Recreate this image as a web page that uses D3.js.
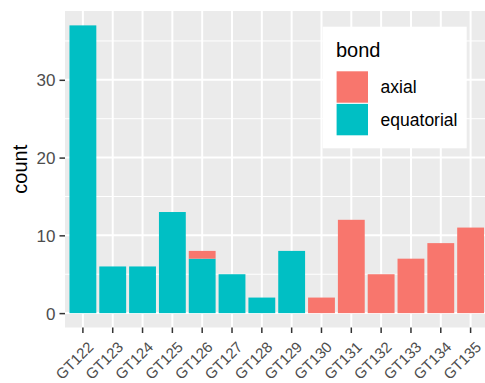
<!DOCTYPE html>
<html>
<head>
<meta charset="utf-8">
<script src="https://cdn.jsdelivr.net/npm/d3@7"></script>
<style>
  body { margin: 0; background: #fff; }
  svg { display: block; font-family: "Liberation Sans", Arial, sans-serif; }
</style>
</head>
<body>
<div id="chart"></div>
<script>
// data
const categories = ["GT122", "GT123", "GT124", "GT125", "GT126", "GT127", "GT128",
  "GT129", "GT130", "GT131", "GT132", "GT133", "GT134", "GT135"];
const equatorial = [37, 6, 6, 13, 7, 5, 2, 8, 0, 0, 0, 0, 0, 0];
const axial = [0, 0, 0, 0, 1, 0, 0, 0, 2, 12, 5, 7, 9, 11];
const yTicks = [0, 10, 20, 30];
const yMinor = [5, 15, 25, 35];
const bonds = ["axial", "equatorial"];
const bondColors = { axial: "#F8766D", equatorial: "#00BFC4" };

const width = 485, height = 383;
const panel = { left: 65, right: 488.5, top: 11, bottom: 327.5 };

const svg = d3.select("#chart").append("svg")
  .attr("width", width)
  .attr("height", height);

// stacked: equatorial at bottom, axial on top
const rows = categories.map((c, i) => ({ cat: c, equatorial: equatorial[i], axial: axial[i] }));
const stack = d3.stack().keys(["equatorial", "axial"])(rows);

const ymax = d3.max(rows, (d) => d.equatorial + d.axial);
const pad = ymax * 0.05;

const x = d3.scaleBand()
  .domain(categories)
  .range([panel.left, panel.right])
  .paddingInner(0.1)
  .paddingOuter(0.15);

const y = d3.scaleLinear()
  .domain([-pad, ymax + pad])
  .range([panel.bottom, panel.top]);

// panel background
svg.append("rect")
  .attr("x", panel.left)
  .attr("y", panel.top)
  .attr("width", panel.right - panel.left)
  .attr("height", panel.bottom - panel.top)
  .attr("fill", "#EBEBEB");

// grid
const grid = svg.append("g");
grid.selectAll(".minor")
  .data(yMinor)
  .join("line")
  .attr("x1", panel.left).attr("x2", panel.right)
  .attr("y1", (d) => y(d)).attr("y2", (d) => y(d))
  .attr("stroke", "#fff").attr("stroke-width", 1);
grid.selectAll(".majory")
  .data(yTicks)
  .join("line")
  .attr("x1", panel.left).attr("x2", panel.right)
  .attr("y1", (d) => y(d)).attr("y2", (d) => y(d))
  .attr("stroke", "#fff").attr("stroke-width", 2);
grid.selectAll(".majorx")
  .data(categories)
  .join("line")
  .attr("x1", (d) => x(d) + x.bandwidth() / 2)
  .attr("x2", (d) => x(d) + x.bandwidth() / 2)
  .attr("y1", panel.top).attr("y2", panel.bottom)
  .attr("stroke", "#fff").attr("stroke-width", 2);

// bars
svg.append("g")
  .selectAll("g")
  .data(stack)
  .join("g")
  .attr("fill", (s) => bondColors[s.key])
  .selectAll("rect")
  .data((s) => s.filter((d) => d[1] > d[0]))
  .join("rect")
  .attr("x", (d) => x(d.data.cat))
  .attr("width", x.bandwidth())
  .attr("y", (d) => y(d[1]))
  .attr("height", (d) => y(d[0]) - y(d[1]));

// y axis
const yAxis = svg.append("g")
  .attr("transform", `translate(${panel.left},0)`)
  .call(d3.axisLeft(y).tickValues(yTicks).tickSize(5.5).tickPadding(4));
yAxis.select(".domain").remove();
yAxis.selectAll(".tick line").attr("stroke", "#333").attr("stroke-width", 1.5);
yAxis.selectAll(".tick text")
  .attr("fill", "#4D4D4D")
  .style("font-size", "17px")
  .attr("dy", "0.36em");

// x axis
const xAxis = svg.append("g")
  .attr("transform", `translate(0,${panel.bottom})`)
  .call(d3.axisBottom(x).tickSize(5.5).tickSizeOuter(0));
xAxis.select(".domain").remove();
xAxis.selectAll(".tick line").attr("stroke", "#333").attr("stroke-width", 1.5);
xAxis.selectAll(".tick text")
  .attr("fill", "#4D4D4D")
  .style("font-size", "15px")
  .attr("text-anchor", "end")
  .attr("y", 0)
  .attr("dy", 0)
  .attr("transform", "translate(11.5,20.5) rotate(-45)");

// y title
svg.append("text")
  .attr("transform", `translate(26.5,${(panel.top + panel.bottom) / 2}) rotate(-90)`)
  .attr("text-anchor", "middle")
  .style("font-size", "20px")
  .attr("fill", "#000")
  .text("count");

// legend
const lg = svg.append("g").attr("transform", "translate(322.7,26.7)");
lg.append("rect")
  .attr("width", 144)
  .attr("height", 121.6)
  .attr("fill", "#fff");
lg.append("text")
  .attr("x", 13.3)
  .attr("y", 30)
  .style("font-size", "20px")
  .attr("fill", "#000")
  .text("bond");
const key = 32.6;
const items = lg.selectAll(".item")
  .data(bonds)
  .join("g")
  .attr("transform", (d, i) => `translate(13.3,${44 + i * key})`);
items.append("rect")
  .attr("x", 0.6).attr("y", 0.6)
  .attr("width", key - 1.2).attr("height", key - 1.2)
  .attr("fill", (d) => bondColors[d]);
items.append("text")
  .attr("x", key + 12)
  .attr("y", key / 2)
  .attr("dy", "0.36em")
  .style("font-size", "17.5px")
  .attr("fill", "#000")
  .text((d) => d);
</script>
</body>
</html>
